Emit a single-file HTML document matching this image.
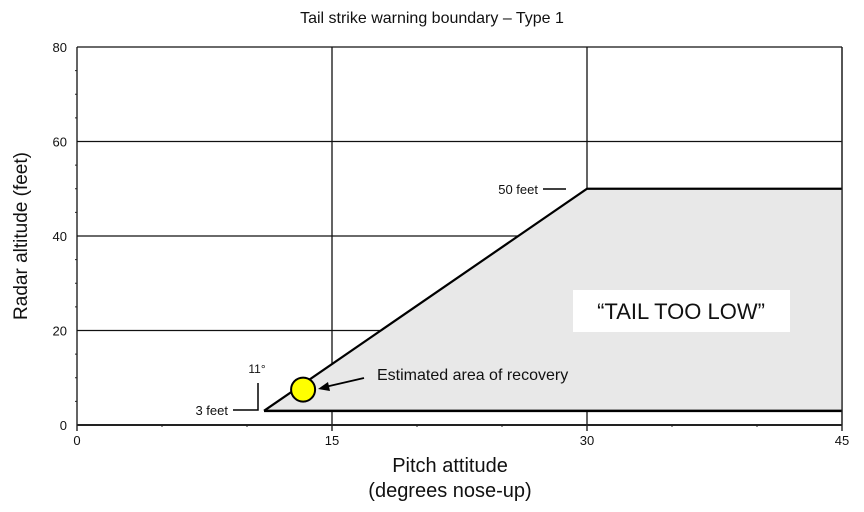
<!DOCTYPE html>
<html><head><meta charset="utf-8"><style>
body{margin:0;background:#fff;}
svg text{font-family:"Liberation Sans",sans-serif;fill:#111;}
</style></head><body>
<svg id="chart" width="864" height="507" viewBox="0 0 864 507" xmlns="http://www.w3.org/2000/svg">
<text x="432" y="23" font-size="16" text-anchor="middle">Tail strike warning boundary – Type 1</text>
<g id="grid"></g>
<g id="area"></g>
<g id="ticks"></g>
<text transform="translate(27,236) rotate(-90)" font-size="19" text-anchor="middle">Radar altitude (feet)</text>
<text x="450" y="472" font-size="20" text-anchor="middle">Pitch attitude</text>
<text x="450" y="497" font-size="20" text-anchor="middle">(degrees nose-up)</text>
</svg>
<script>
const xTicks=[0,15,30,45];
const yTicks=[0,20,40,60,80];
const boundaryX=[11,30,45,45];
const boundaryY=[3,50,50,3];
const recoveryPoint=[13.3,7.5];
const NS="http://www.w3.org/2000/svg";
const X=v=>77+v*(842-77)/45;
const Y=v=>425-v*(425-47)/80;
function mk(tag,attrs,parent,text){const e=document.createElementNS(NS,tag);for(const k in attrs)e.setAttribute(k,attrs[k]);if(text!==undefined)e.textContent=text;parent.appendChild(e);return e;}
const grid=document.getElementById('grid'),area=document.getElementById('area'),ticks=document.getElementById('ticks');
yTicks.forEach(t=>{
 const l=mk('line',{x1:X(0),x2:X(45),y1:Y(t),y2:Y(t),stroke:'#111','stroke-width':1.3},grid);
 
 
 const tx=mk('text',{x:X(0)-10,y:Y(t)+5,'font-size':13,'text-anchor':'end'},ticks,t);
 
 
});
for(let v=5;v<80;v+=5){if(v%20)mk('line',{x1:X(0)-2,x2:X(0),y1:Y(v),y2:Y(v),stroke:'#222'},ticks);}
for(let v=5;v<45;v+=5){if(v%15)mk('line',{x1:X(v),x2:X(v),y1:Y(0),y2:Y(0)+2,stroke:'#222'},ticks);}
xTicks.forEach(t=>{
 const l=mk('line',{x1:X(t),x2:X(t),y1:Y(80),y2:Y(0)+6,stroke:'#111','stroke-width':1.3},grid);
 
 
 const tx=mk('text',{x:X(t),y:Y(0)+20,'font-size':13,'text-anchor':'middle'},ticks,t);
 
 
});
mk('line',{x1:X(0),x2:X(45),y1:Y(0),y2:Y(0),stroke:'#222','stroke-width':2},grid);
const pts=boundaryX.map((x,i)=>X(x)+','+Y(boundaryY[i])).join(' ');
const poly=mk('polygon',{points:pts,fill:'#e8e8e8',stroke:'none'},area);


const bl=mk('polyline',{points:[0,1,2].map(i=>X(boundaryX[i])+','+Y(boundaryY[i])).join(' '),fill:'none',stroke:'#000','stroke-width':2.2},area);


mk('line',{x1:X(boundaryX[0]),x2:X(45),y1:Y(boundaryY[0]),y2:Y(boundaryY[0]),stroke:'#000','stroke-width':2.5},area);
mk('line',{x1:X(45),x2:X(45),y1:Y(80),y2:Y(0),stroke:'#222','stroke-width':1.3},area);
const box=mk('rect',{x:573,y:290,width:217,height:42,fill:'#fff'},area);


mk('text',{x:681,y:319,'font-size':22,'text-anchor':'middle'},area,'“TAIL TOO LOW”');
const c=mk('circle',{cx:X(recoveryPoint[0]),cy:Y(recoveryPoint[1]),r:12,fill:'#ffff00',stroke:'#000','stroke-width':2},area);


mk('line',{x1:364,y1:378,x2:325,y2:387,stroke:'#000','stroke-width':1.8},area);
mk('polygon',{points:'318,389 328,382 330,391',fill:'#000'},area);
mk('text',{x:377,y:380,'font-size':16},area,'Estimated area of recovery');
mk('text',{x:538,y:194,'font-size':13,'text-anchor':'end'},area,'50 feet');
mk('line',{x1:543,x2:566,y1:189,y2:189,stroke:'#000','stroke-width':1.5},area);
mk('text',{x:228,y:415,'font-size':13,'text-anchor':'end'},area,'3 feet');
mk('polyline',{points:'233,410 258,410 258,383',fill:'none',stroke:'#000','stroke-width':1.5},area);
mk('text',{x:257,y:373,'font-size':12,'text-anchor':'middle'},area,'11°');
</script>
</body></html>
